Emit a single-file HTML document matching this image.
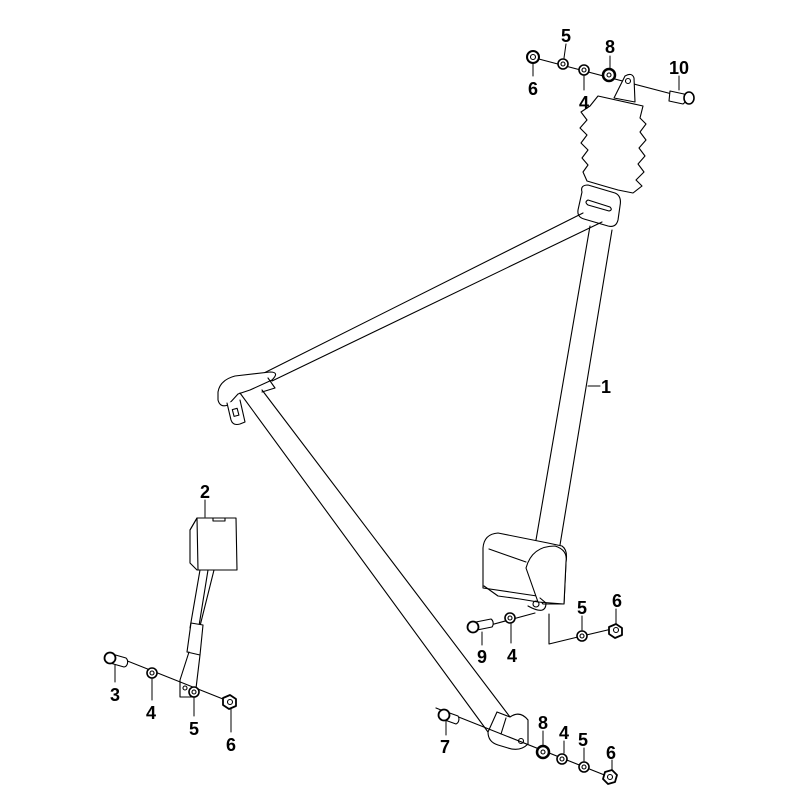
<!DOCTYPE html>
<html><head><meta charset="utf-8"><style>
html,body{margin:0;padding:0;background:#fff;}
svg{display:block}
text{font-family:"Liberation Sans",sans-serif;font-weight:bold;font-size:18px;fill:#000;text-anchor:middle}
</style></head><body>
<svg width="800" height="800" viewBox="0 0 800 800" xmlns="http://www.w3.org/2000/svg" fill="none" stroke="#000" stroke-width="1.1" stroke-linejoin="round" stroke-linecap="round">
<line x1="535" y1="58" x2="672" y2="94"/>
<circle cx="533" cy="57" r="6" fill="#fff" stroke-width="2"/><circle cx="533" cy="57" r="2.5"/>
<circle cx="563" cy="64" r="5" fill="#fff" stroke-width="1.6"/><circle cx="563" cy="64" r="2"/>
<circle cx="584" cy="70" r="5" fill="#fff" stroke-width="1.6"/><circle cx="584" cy="70" r="2"/>
<circle cx="609" cy="75" r="6" fill="#fff" stroke-width="2.5"/><circle cx="609" cy="75" r="2"/>
<path d="M670 91 l14 3 a5 6 0 0 1 -1 10 l-14 -3 z" fill="#fff"/><ellipse cx="689" cy="98" rx="5" ry="6" fill="#fff" stroke-width="1.6"/>
<path d="M614 98 L625 76 Q632 72 634 78 L635 102 Z" fill="#fff"/><circle cx="628" cy="81" r="2.5"/>
<path d="M598 96 L643 106 L640 118 L646 124 L640 132 L646 140 L639 148 L645 156 L638 164 L644 172 L636 180 L642 186 L633 193 L618 190 L604 186 L587 181 L583 172 L588 165 L582 158 L588 150 L581 143 L587 135 L580 128 L587 120 L581 112 L590 106 Z" fill="#fff"/>
<path d="M582 192 Q580 185 588 185 L615 193 Q622 196 620 206 L618 220 Q616 228 608 226 L584 219 Q577 217 578 210 Z" fill="#fff"/>
<path d="M588 200 L610 207 Q613 210 609 211 L588 205 Q584 202 588 200 Z"/>
<path d="M590 226 L536 540 M612 230 L560 545"/>
<path d="M583 213 L262 374 M602 222 L272 381"/>
<path d="M218 392 Q220 380 235 376 L270 372 Q280 372 272 380 L250 390 L238 394 L228 405 Q220 408 218 400 Z" fill="#fff"/>
<path d="M268 378 L275 388 L262 392"/>
<path d="M227 403 L231 420 Q233 426 240 424 L245 422 L240 400" fill="#fff"/>
<rect x="233" y="409" width="5" height="7" transform="rotate(-15 235 412)"/>
<path d="M240 393 L488 732 M262 390 L510 717"/>
<path d="M488 732 L497 712 L510 717 Q520 710 528 720 L528 744 Q520 752 508 748 L498 745 Q488 742 488 732 Z" fill="#fff"/>
<path d="M506 718 L501 734"/><circle cx="521" cy="741" r="2.5"/>
<line x1="436" y1="708" x2="612" y2="778"/>
<path d="M444 711 l14 5 a4 5 0 0 1 -2 8 l-14 -5 z" fill="#fff"/><circle cx="444" cy="715" r="5.5" fill="#fff" stroke-width="1.8"/>
<circle cx="543" cy="752" r="6" fill="#fff" stroke-width="2.5"/><circle cx="543" cy="752" r="2"/>
<circle cx="562" cy="759" r="5" fill="#fff" stroke-width="1.6"/><circle cx="562" cy="759" r="2"/>
<circle cx="584" cy="767" r="5" fill="#fff" stroke-width="1.6"/><circle cx="584" cy="767" r="2"/>
<path d="M605 772 l7 -2 5 5 -2 7 -7 2 -5 -5 z" fill="#fff" stroke-width="1.8"/><circle cx="610" cy="777" r="2.5"/>
<!-- retractor -->
<path d="M483 548 Q484 534 498 533 L548 543 L562 546 Q568 550 566 562 L564 604 L543 604 L537 596 L510 592 L483 588 Z" fill="#fff"/>
<path d="M526 568 Q532 546 555 546 Q568 550 566 562 L564 604 L538 602 Z" fill="#fff"/>
<path d="M489 549 L526 562 M484 586 L498 596 L520 599 L538 602"/>
<path d="M528 606 Q546 616 546 603 L540 598"/><circle cx="536" cy="604" r="3"/>
<path d="M549 614 L549 644 L582 636"/>
<line x1="483" y1="627" x2="535" y2="613"/>
<path d="M476 622 l15 -3 a4 5 0 0 1 1 8 l-15 3 z" fill="#fff"/><circle cx="473" cy="627" r="5.5" fill="#fff" stroke-width="1.8"/>
<circle cx="510" cy="618" r="5" fill="#fff" stroke-width="1.6"/><circle cx="510" cy="618" r="2"/>
<line x1="582" y1="636" x2="616" y2="628"/>
<circle cx="582" cy="636" r="5" fill="#fff" stroke-width="1.6"/><circle cx="582" cy="636" r="2"/>
<path d="M609 627 l7 -3 6 4 0 7 -7 3 -6 -4 z" fill="#fff" stroke-width="1.8"/><circle cx="616" cy="630" r="2.5"/>
<path d="M197 518 L236 518 L237 570 L197 570 L190 563 L190 530 Z" fill="#fff"/>
<path d="M197 518 L190 530 M197 518 L198 570"/>
<rect x="213" y="518" width="12" height="3"/>
<path d="M200 570 L190 628 M208 570 L198 632 M214 570 L199 630"/>
<path d="M191 623 L203 625 L200 655 L187 652 Z" fill="#fff"/>
<path d="M189 652 L180 680 L180 697 L195 697 L197 680 L200 655"/>
<circle cx="185" cy="688" r="2"/>
<line x1="125" y1="660" x2="228" y2="701"/>
<path d="M112 654 l14 4 a4 5 0 0 1 -2 9 l-14 -4 z" fill="#fff"/><circle cx="110" cy="658" r="5.5" fill="#fff" stroke-width="1.8"/>
<circle cx="152" cy="673" r="5" fill="#fff" stroke-width="1.6"/><circle cx="152" cy="673" r="2"/>
<circle cx="194" cy="692" r="5" fill="#fff" stroke-width="1.6"/><circle cx="194" cy="692" r="2"/>
<path d="M223 698 l7 -3 6 4 0 7 -7 3 -6 -4 z" fill="#fff" stroke-width="1.8"/><circle cx="230" cy="702" r="2.5"/>
<g stroke-width="1">
<line x1="566" y1="44" x2="564" y2="58"/><line x1="610" y1="56" x2="610" y2="68"/>
<line x1="533" y1="64" x2="533" y2="76"/><line x1="584" y1="76" x2="584" y2="90"/>
<line x1="679" y1="76" x2="679" y2="90"/>
<line x1="588" y1="386" x2="600" y2="386"/>
<line x1="205" y1="500" x2="205" y2="517"/>
<line x1="582" y1="616" x2="582" y2="630"/><line x1="616" y1="609" x2="616" y2="624"/>
<line x1="482" y1="632" x2="482" y2="645"/><line x1="511" y1="624" x2="511" y2="643"/>
<line x1="115" y1="665" x2="115" y2="682"/><line x1="152" y1="679" x2="152" y2="700"/>
<line x1="194" y1="697" x2="194" y2="716"/><line x1="231" y1="708" x2="231" y2="732"/>
<line x1="446" y1="721" x2="446" y2="735"/><line x1="543" y1="731" x2="543" y2="745"/>
<line x1="564" y1="741" x2="564" y2="753"/><line x1="584" y1="748" x2="584" y2="761"/>
<line x1="612" y1="760" x2="612" y2="770"/>
</g>
<g stroke="none">
<text x="566" y="42">5</text><text x="610" y="53">8</text><text x="533" y="95">6</text><text x="584" y="109">4</text><text x="679" y="74">10</text>
<text x="606" y="393">1</text><text x="205" y="498">2</text>
<text x="582" y="614">5</text><text x="617" y="607">6</text><text x="482" y="663">9</text><text x="512" y="662">4</text>
<text x="115" y="701">3</text><text x="151" y="719">4</text><text x="194" y="735">5</text><text x="231" y="751">6</text>
<text x="445" y="753">7</text><text x="543" y="729">8</text><text x="564" y="739">4</text><text x="583" y="746">5</text><text x="611" y="759">6</text>
</g>
</svg>
</body></html>
